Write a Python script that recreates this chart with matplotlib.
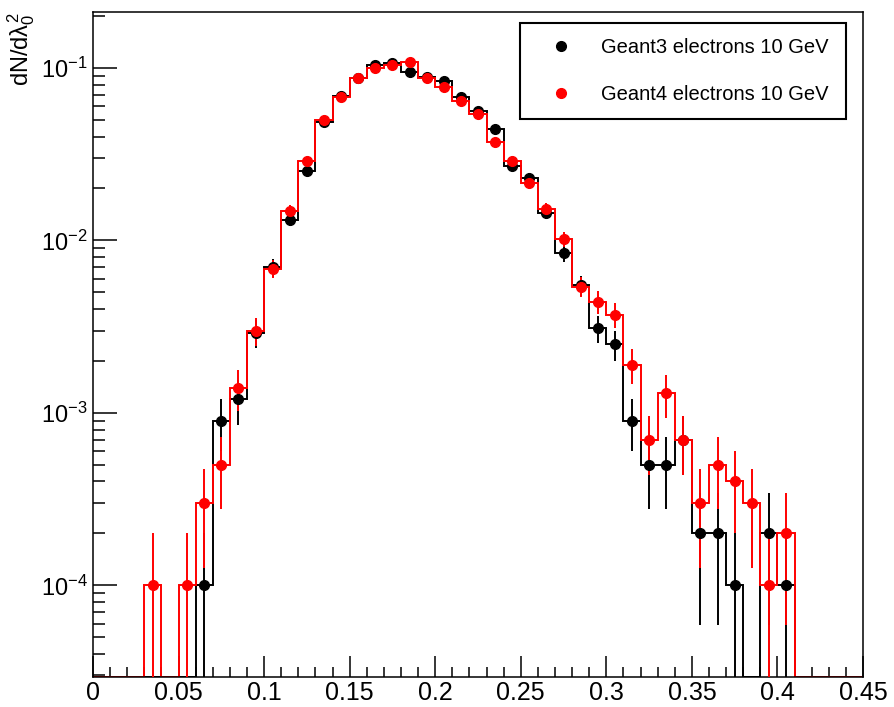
import numpy as np
import matplotlib
matplotlib.use("Agg")
import matplotlib.pyplot as plt
from matplotlib.ticker import FixedLocator, FixedFormatter, LogLocator, NullFormatter

plt.rcParams["font.family"] = ["Liberation Sans", "DejaVu Sans"]
plt.rcParams["mathtext.fontset"] = "custom"
plt.rcParams["mathtext.rm"] = "Liberation Sans"
plt.rcParams["mathtext.it"] = "Liberation Sans"
plt.rcParams["mathtext.bf"] = "Liberation Sans:bold"

# ---- data -------------------------------------------------------------
bin_edges = np.round(np.arange(0.0, 0.4501, 0.01), 3)

geant3 = [0, 0, 0, 0, 0, 0, 1e-4, 9e-4, 1.2e-3, 2.9e-3,
          7.0e-3, 1.32e-2, 2.54e-2, 4.84e-2, 6.9e-2, 8.7e-2, 1.035e-1, 1.07e-1, 9.43e-2, 8.8e-2,
          8.37e-2, 6.79e-2, 5.66e-2, 4.44e-2, 2.69e-2, 2.31e-2, 1.445e-2, 8.4e-3, 5.5e-3, 3.1e-3,
          2.5e-3, 9e-4, 5e-4, 5e-4, 7e-4, 2e-4, 2e-4, 1e-4, 0, 2e-4,
          1e-4, 0, 0, 0, 0]

geant4 = [0, 0, 0, 1e-4, 0, 1e-4, 3e-4, 5e-4, 1.4e-3, 3.0e-3,
          6.85e-3, 1.48e-2, 2.88e-2, 5.0e-2, 6.8e-2, 8.75e-2, 1.0e-1, 1.035e-1, 1.08e-1, 8.75e-2,
          7.76e-2, 6.47e-2, 5.43e-2, 3.71e-2, 2.88e-2, 2.16e-2, 1.52e-2, 1.02e-2, 5.4e-3, 4.4e-3,
          3.7e-3, 1.9e-3, 7e-4, 1.3e-3, 7e-4, 3e-4, 5e-4, 4e-4, 3e-4, 1e-4,
          2e-4, 0, 0, 0, 0]

labels = ["Geant3 electrons 10 GeV", "Geant4 electrons 10 GeV"]
colors = ["black", "#ff0000"]
entry_weight = 1e-4  # value of one entry (Poisson errors)

xtick_major = [0, 0.05, 0.1, 0.15, 0.2, 0.25, 0.3, 0.35, 0.4, 0.45]
xtick_labels = ["0", "0.05", "0.1", "0.15", "0.2", "0.25", "0.3", "0.35", "0.4", "0.45"]
ytick_major = [1e-4, 1e-3, 1e-2, 1e-1]
ytick_labels = [r"$10^{-4}$", r"$10^{-3}$", r"$10^{-2}$", r"$10^{-1}$"]
ylabel = r"$\mathrm{dN/d}\lambda_{0}^{2}$"

# ---- figure -----------------------------------------------------------
fig = plt.figure(figsize=(8.94, 7.07), dpi=100)
ax = fig.add_axes([0.10403, 0.04243, 0.8613, 0.9406])
ax.set_yscale("log")
ymin, ymax = 2.94e-5, 0.211
ax.set_xlim(0, 0.45)
ax.set_ylim(ymin, ymax)

centers = (bin_edges[:-1] + bin_edges[1:]) / 2
handles = []
for vals, col, lab in zip([geant3, geant4], colors, labels):
    v = np.asarray(vals, dtype=float)
    step_vals = np.where(v > 0, v, ymin)
    ax.stairs(step_vals, bin_edges, baseline=None, color=col, lw=1.4, zorder=2)
    m = v > 0
    err = np.sqrt(v[m] / entry_weight) * entry_weight
    ax.errorbar(centers[m], v[m], yerr=[err, err], fmt="none", ecolor=col,
                elinewidth=1.4, capsize=0, zorder=3)
    h, = ax.plot(centers[m], v[m], "o", color=col, ms=7, ls="none", zorder=4, label=lab)
    handles.append(h)

# ticks
ax.xaxis.set_major_locator(FixedLocator(xtick_major))
ax.xaxis.set_major_formatter(FixedFormatter(xtick_labels))
ax.xaxis.set_minor_locator(FixedLocator(np.round(np.arange(0.01, 0.45, 0.01), 3)))
ax.yaxis.set_major_locator(FixedLocator(ytick_major))
ax.yaxis.set_major_formatter(FixedFormatter(ytick_labels))
ax.yaxis.set_minor_locator(LogLocator(base=10, subs=np.arange(2, 10), numticks=20))
ax.yaxis.set_minor_formatter(NullFormatter())

ax.tick_params(axis="both", which="both", direction="in", top=False, right=False,
               width=1.1, colors="black")
ax.tick_params(axis="x", which="major", length=15, pad=3, labelsize=18)
ax.tick_params(axis="x", which="minor", length=7.5)
ax.tick_params(axis="y", which="major", length=17.5, pad=4, labelsize=17)
ax.tick_params(axis="y", which="minor", length=8.6)
for s in ax.spines.values():
    s.set_linewidth(1.1)
    s.set_color("black")

ax.set_ylabel(ylabel, fontsize=17, loc="top")
ax.yaxis.set_label_coords(-0.073, 1.0)

leg = ax.legend(handles, labels, loc="upper left",
                bbox_to_anchor=(0.5545, 0.9835, 0.4235, 0), mode="expand",
                borderaxespad=0, borderpad=0.75, labelspacing=1.38,
                handlelength=2.6, handletextpad=0.65, numpoints=1,
                frameon=True, fancybox=False, edgecolor="black", framealpha=1,
                prop={"size": 14.5})
leg.get_frame().set_linewidth(1.5)

fig.savefig("out.png", dpi=100)
